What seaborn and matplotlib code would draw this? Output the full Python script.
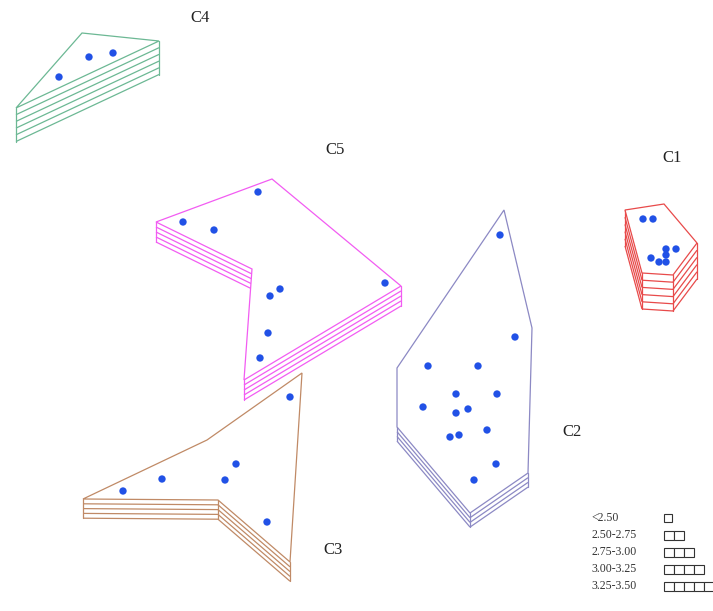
import numpy as np
import pandas as pd
import matplotlib
matplotlib.use("Agg")
import matplotlib.pyplot as plt
import seaborn as sns
from matplotlib.path import Path

# ---------------- data (picture coordinates, y grows downward) ----------------
clusters = ["C1", "C2", "C3", "C4", "C5"]

c1_vx = [625, 664, 697, 673, 642]
c1_vy = [210, 204, 243, 275, 273]
c1_px = [643, 653, 651, 659, 666, 666, 666, 676]
c1_py = [219, 219, 258, 262, 262, 255, 249, 249]

c2_vx = [504, 532, 528, 470, 397, 397]
c2_vy = [210, 328, 473, 513, 427, 368]
c2_px = [500, 515, 428, 478, 456, 497, 423, 456, 468, 487, 459, 450, 496, 474]
c2_py = [235, 337, 366, 366, 394, 394, 407, 413, 409, 430, 435, 437, 464, 480]

c3_vx = [83, 207, 302, 290, 218]
c3_vy = [499, 440, 373, 562, 500]
c3_px = [290, 236, 225, 162, 123, 267]
c3_py = [397, 464, 480, 479, 491, 522]

c4_vx = [82, 159, 16]
c4_vy = [33, 41, 108]
c4_px = [59, 89, 113]
c4_py = [77, 57, 53]

c5_vx = [156, 272, 401, 244, 252]
c5_vy = [222, 179, 286, 380, 269]
c5_px = [258, 183, 214, 385, 280, 270, 268, 260]
c5_py = [192, 222, 230, 283, 289, 296, 333, 358]

layers = [5, 3, 4, 5, 4]          # number of stacked levels per cluster
label_x = [672, 572, 333, 200, 335]
label_y = [158, 432, 550, 18, 150]

legend_labels = ["<2.50", "2.50-2.75", "2.75-3.00", "3.00-3.25", "3.25-3.50"]
legend_boxes = [1, 2, 3, 4, 5]

# ---------------- style ----------------
layer_gap = [7.2, 4.7, 4.8, 6.7, 5.0]
colors = ["#e84a4a", "#8c89c4", "#c08a66", "#6cb894", "#f25cf2"]
point_color = "#2151e6"

sns.set_theme(style="white")
plt.rcParams["font.family"] = ["Liberation Serif", "DejaVu Serif"]

fig = plt.figure(figsize=(7.13, 6.11), dpi=100)
ax = fig.add_axes([0, 0, 1, 1])

verts_x = [c1_vx, c2_vx, c3_vx, c4_vx, c5_vx]
verts_y = [c1_vy, c2_vy, c3_vy, c4_vy, c5_vy]
pts_x = [c1_px, c2_px, c3_px, c4_px, c5_px]
pts_y = [c1_py, c2_py, c3_py, c4_py, c5_py]

lw = 0.9
for i, name in enumerate(clusters):
    vx, vy = np.array(verts_x[i], float), np.array(verts_y[i], float)
    n, gap, col = layers[i], layer_gap[i], colors[i]
    poly = np.column_stack([vx, vy])
    path = Path(np.vstack([poly, poly[:1]]))
    m = len(vx)
    facing = []
    for j in range(m):
        p, q = poly[j], poly[(j + 1) % m]
        dx, dy = q[0] - p[0], q[1] - p[1]
        if abs(dx) < 0.15 * abs(dy):
            facing.append(False)
            continue
        mid = (p + q) / 2
        facing.append(not path.contains_point((mid[0], mid[1] + 0.6)))
    vset = set()
    for j in range(m):
        if facing[j]:
            p, q = poly[j], poly[(j + 1) % m]
            vset.update([j, (j + 1) % m])
            for k in range(1, n + 1):
                ax.plot([p[0], q[0]], [p[1] + k * gap, q[1] + k * gap],
                        color=col, lw=lw, solid_capstyle="butt", zorder=2)
    for j in vset:
        ax.plot([poly[j, 0], poly[j, 0]], [poly[j, 1], poly[j, 1] + n * gap],
                color=col, lw=lw, zorder=2)
    ax.fill(np.append(vx, vx[0]), np.append(vy, vy[0]), facecolor="white",
            edgecolor=col, lw=lw, zorder=3)
    ax.text(label_x[i], label_y[i], name, ha="center", va="center",
            fontsize=12, color="#222222", zorder=6)

pts = pd.DataFrame({
    "x": sum(pts_x, []),
    "y": sum(pts_y, []),
    "cluster": sum([[c] * len(px) for c, px in zip(clusters, pts_x)], []),
})
sns.scatterplot(data=pts, x="x", y="y", color=point_color, s=28,
                edgecolor="none", legend=False, ax=ax, zorder=5)
ax.set_xlim(0, 713)
ax.set_ylim(611, 0)
ax.axis("off")

# legend of stacked levels
row_y = [518, 535, 552, 569, 586]
for lab, nb, yy in zip(legend_labels, legend_boxes, row_y):
    ax.text(591, yy, lab, ha="left", va="center", fontsize=8.5,
            color="#333333", zorder=6)
    bw = 10 if nb > 1 else 8
    bh = 9 if nb > 1 else 8
    for b in range(nb):
        ax.add_patch(plt.Rectangle((664 + b * bw, yy - bh / 2), bw, bh,
                                   facecolor="white", edgecolor="#333333",
                                   lw=0.8, zorder=6))

fig.savefig("out.png", dpi=100)
